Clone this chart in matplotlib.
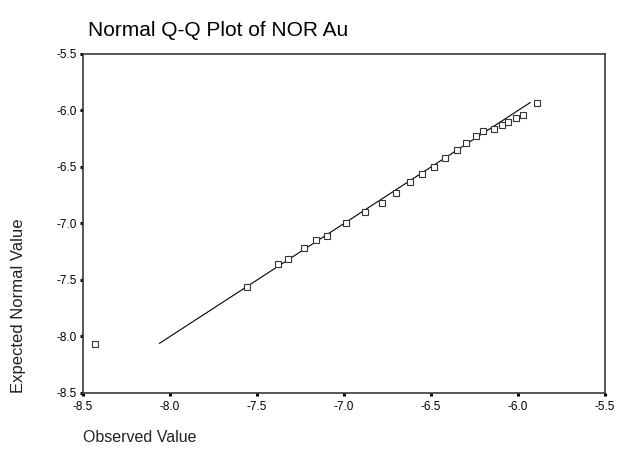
import numpy as np
import matplotlib
matplotlib.use('Agg')
from matplotlib import pyplot as plt

observed = [-8.43, -7.56, -7.38, -7.32, -7.23, -7.16, -7.10, -6.99, -6.88,
            -6.78, -6.70, -6.62, -6.55, -6.48, -6.42, -6.35, -6.30, -6.24,
            -6.20, -6.14, -6.09, -6.06, -6.01, -5.97, -5.89]
expected = [-8.07, -7.56, -7.36, -7.31, -7.22, -7.15, -7.11, -7.00, -6.90,
            -6.82, -6.73, -6.63, -6.56, -6.50, -6.42, -6.35, -6.29, -6.23,
            -6.18, -6.16, -6.13, -6.10, -6.07, -6.04, -5.93]
ref_line = [-8.06, -5.93]
ticks = [-8.5, -8.0, -7.5, -7.0, -6.5, -6.0, -5.5]

plt.rcParams['font.family'] = ['Liberation Sans', 'DejaVu Sans']

fig = plt.figure(figsize=(6.25, 4.59), dpi=100)
ax = fig.add_axes([83/625., 1 - 393/459., (605 - 83)/625., (393 - 54)/459.])

ax.plot(ref_line, ref_line, color='black', lw=0.8)
ax.plot(observed, expected, ls='none', marker='s', ms=4.5, mfc='white',
        mec='#333333', mew=0.8)

ax.set_xlim(-8.5, -5.5)
ax.set_ylim(-8.5, -5.5)
ax.set_xticks(ticks)
ax.set_yticks(ticks)
ax.set_xticklabels(['%.1f' % t for t in ticks])
ax.set_yticklabels(['%.1f' % t for t in ticks])
ax.tick_params(direction='out', length=2.5, width=2.2, color='black',
               labelsize=8.5, pad=2)
ax.tick_params(axis='x', pad=3)
for s in ax.spines.values():
    s.set_color('#3a3a3a')
    s.set_linewidth(1.2)

fig.text(88/625., 1 - 30/459., 'Normal Q-Q Plot of NOR Au', fontsize=15,
         ha='left', va='center')
fig.text(19/625., 1 - 393/459., 'Expected Normal Value', fontsize=12,
         rotation=90, ha='center', va='bottom', color='#222222')
fig.text(83/625., 1 - 438/459., 'Observed Value', fontsize=11.5,
         ha='left', va='center', color='#222222')

fig.savefig('out.png', dpi=100)
